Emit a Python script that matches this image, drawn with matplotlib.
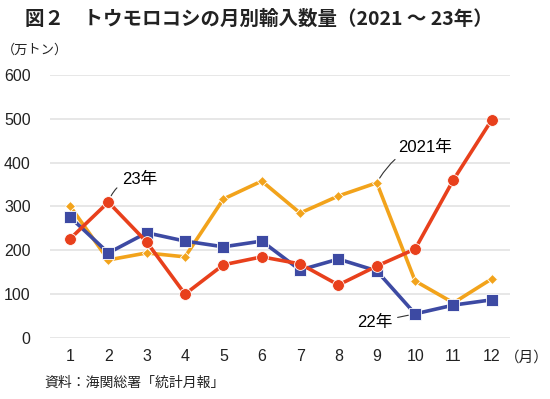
import numpy as np
import matplotlib.pyplot as plt

plt.rcParams['font.family'] = ['Liberation Sans', 'Noto Sans CJK JP', 'DejaVu Sans']

# Data (万トン)
months = np.arange(1, 13)
y2021 = [301, 178, 194, 185, 317, 358, 285, 324, 354, 130, 80, 135]
y2022 = [276, 194, 240, 221, 208, 221, 155, 180, 153, 55, 75, 87]
y2023 = [226, 310, 219, 100, 167, 185, 169, 121, 164, 203, 361, 498]

c21 = '#f2a31b'
c22 = '#3d4aa3'
c23 = '#e8401c'

fig = plt.figure(figsize=(5.5, 3.99), dpi=100)
ax = fig.add_axes([0.091, 0.153, 0.836, 0.659])

ax.plot(months, y2021, color=c21, lw=2.6, marker='D', ms=5, mec='white', mew=0.6, zorder=3)
ax.plot(months, y2022, color=c22, lw=2.6, marker='s', ms=8.5, mec='white', mew=0.6, zorder=4)
ax.plot(months, y2023, color=c23, lw=2.6, marker='o', ms=8.5, mec='white', mew=0.6, zorder=5)

ax.set_xlim(0.48, 12.47)
ax.set_ylim(0, 600)
ax.set_yticks(range(0, 601, 100))
ax.set_xticks(months)
ax.grid(axis='y', color='#e3e3e3', lw=1.2)
ax.set_axisbelow(True)
for s in ax.spines.values():
    s.set_visible(False)
ax.tick_params(length=0, labelsize=11.5, colors='#222222')
ax.tick_params(axis='y', pad=14)
ax.tick_params(axis='x', pad=8)

# labels with leader lines
ax.annotate('23年', xy=(2, y2023[1]), xytext=(2.35, 362), fontsize=12,
            ha='left', va='center',
            arrowprops=dict(arrowstyle='-', color='#333333', lw=0.8, shrinkA=2, shrinkB=5,
                            connectionstyle='angle3,angleA=0,angleB=70'))
ax.annotate('2021年', xy=(9, y2021[8]), xytext=(9.55, 435), fontsize=12,
            ha='left', va='center',
            arrowprops=dict(arrowstyle='-', color='#333333', lw=0.8, shrinkA=2, shrinkB=4,
                            connectionstyle='angle3,angleA=0,angleB=60'))
ax.annotate('22年', xy=(10, y2022[9]), xytext=(9.4, 36), fontsize=12,
            ha='right', va='center',
            arrowprops=dict(arrowstyle='-', color='#333333', lw=0.8, shrinkA=2, shrinkB=5))

fig.text(0.47, 0.953, '図２　トウモロコシの月別輸入数量（2021 ～ 23年）', fontsize=14,
         fontweight='bold', ha='center', va='center', color='#222222',
         family=['Noto Sans CJK JP', 'DejaVu Sans'])
fig.text(0.003, 0.873, '（万トン）', fontsize=9.5, ha='left', va='center', color='#222222')
fig.text(0.918, 0.103, '（月）', fontsize=10.5, ha='left', va='center', color='#222222')
fig.text(0.08, 0.04, '資料：海関総署「統計月報」', fontsize=10, ha='left', va='center', color='#222222')

fig.savefig('out.png', dpi=100)
